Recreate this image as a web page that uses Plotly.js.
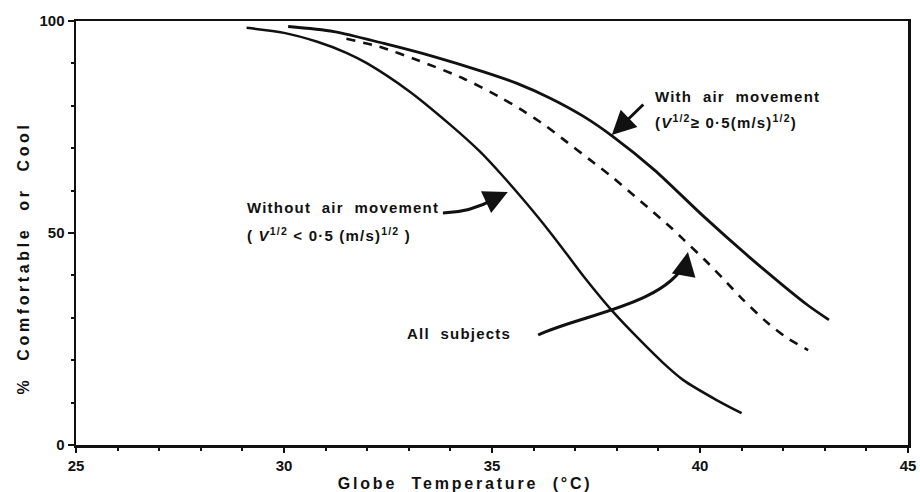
<!DOCTYPE html>
<html>
<head>
<meta charset="utf-8">
<script src="https://cdn.plot.ly/plotly-3.0.1.min.js"></script>
<style>
  html, body { margin: 0; padding: 0; background: #fff; }
  #chart { width: 920px; height: 492px; }
  .annotation-text { letter-spacing: 1.2px; }
  g.annotation[data-index="0"] text { letter-spacing: 2.8px; }
  g.annotation[data-index="1"] text { letter-spacing: 3.6px; }
  .xtick text, .ytick text { font-weight: bold !important; }
</style>
</head>
<body>
<div id="chart"></div>
<script>
// Globe temperature (°C) and % comfortable or cool
const withoutAirX = [29.1, 30.0, 30.8, 31.5, 32.0, 33.0, 34.0, 34.7, 35.2, 35.7, 36.2, 36.7, 37.2, 37.9, 38.6, 39.1, 39.6, 40.4, 41.0];
const withoutAirY = [98.4, 97.2, 95.1, 92.5, 90.0, 83.5, 75.5, 69.3, 64.1, 58.5, 52.6, 46.3, 39.8, 31.5, 24.3, 19.5, 15.3, 10.6, 7.5];

const allSubjectsX = [31.5, 32.3, 33.2, 34.3, 35.2, 35.75, 36.3, 36.7, 37.35, 37.85, 38.3, 38.75, 39.3, 39.6, 40.1, 40.55, 41.0, 41.6, 42.1, 42.6];
const allSubjectsY = [95.8, 93.9, 90.8, 86.5, 82.0, 78.8, 75.2, 72.2, 67.3, 63.5, 59.8, 56.0, 51.3, 48.5, 43.8, 39.3, 34.6, 29.0, 25.2, 22.4];

const withAirX = [30.1, 31.2, 32.4, 33.6, 34.8, 35.6, 36.4, 37.2, 37.9, 38.9, 40.1, 41.2, 42.0, 42.6, 43.1];
const withAirY = [98.7, 97.5, 94.7, 91.6, 88.0, 85.3, 81.8, 77.5, 72.8, 64.9, 53.8, 44.2, 37.6, 32.9, 29.5];

const xTickVals = [25, 30, 35, 40, 45];
const yTickVals = [0, 50, 100];

const xTitle = 'Globe  Temperature  (°C)';
const yTitle = '%  Comfortable  or  Cool';

const FONT = '"Liberation Sans", Arial, sans-serif';
const BLACK = '#111';

const traces = [
  { x: withoutAirX, y: withoutAirY, mode: 'lines', line: { color: BLACK, width: 2.5, shape: 'spline', smoothing: 0.8 }, name: 'Without air movement', hoverinfo: 'skip' },
  { x: allSubjectsX, y: allSubjectsY, mode: 'lines', line: { color: BLACK, width: 2.6, dash: '9px,8px', shape: 'spline', smoothing: 0.8 }, name: 'All subjects', hoverinfo: 'skip' },
  { x: withAirX, y: withAirY, mode: 'lines', line: { color: BLACK, width: 2.8, shape: 'spline', smoothing: 0.8 }, name: 'With air movement', hoverinfo: 'skip' }
];

const txtFont = { family: FONT, size: 15, color: BLACK, weight: 'bold' };
const titleFont = { family: FONT, size: 16, color: BLACK, weight: 'bold' };

const layout = {
  width: 920, height: 492,
  margin: { l: 76, r: 12, t: 21, b: 47 },
  paper_bgcolor: '#fff', plot_bgcolor: '#fff',
  showlegend: false,
  font: { family: FONT, color: BLACK },
  xaxis: {
    range: [25, 45], tickvals: xTickVals, ticktext: xTickVals.map(v => '<b>' + v + '</b>'),
    ticks: 'outside', ticklen: 5, tickwidth: 2, tickcolor: BLACK,
    minor: { dtick: 1, ticks: 'outside', ticklen: 3, tickwidth: 2, tickcolor: BLACK },
    showline: true, linecolor: BLACK, linewidth: 2.5, mirror: true,
    showgrid: false, zeroline: false,
    tickfont: { family: FONT, size: 15, color: BLACK, weight: 'bold' }
  },
  yaxis: {
    range: [0, 100], tickvals: yTickVals, ticktext: yTickVals.map(v => '<b>' + v + '</b>'),
    ticks: 'outside', ticklen: 6, tickwidth: 2, tickcolor: BLACK,
    minor: { dtick: 10, ticks: 'outside', ticklen: 3, tickwidth: 2, tickcolor: BLACK },
    showline: true, linecolor: BLACK, linewidth: 2.5, mirror: true,
    showgrid: false, zeroline: false,
    tickfont: { family: FONT, size: 15, color: BLACK, weight: 'bold' }
  },
  shapes: [
    { type: 'path', xref: 'x', yref: 'y', path: 'M 33.82,54.7 Q 34.5,54.95 35.05,58.0', line: { color: BLACK, width: 3 } },
    { type: 'path', xref: 'x', yref: 'y', path: 'M 36.11,25.94 C 37.12,30.66 39.16,33.02 39.66,43.16', line: { color: BLACK, width: 3 } }
  ],
  annotations: [
    { x: 34.35, y: -0.09, xref: 'x', yref: 'paper', xanchor: 'center', yanchor: 'middle', showarrow: false, text: xTitle, font: titleFont },
    { x: -0.064, y: 44.1, xref: 'paper', yref: 'y', xanchor: 'center', yanchor: 'middle', textangle: -90, showarrow: false, text: yTitle, font: titleFont },
    { x: 38.87, y: 82.1, xref: 'x', yref: 'y', xanchor: 'left', yanchor: 'middle', showarrow: false, text: 'With  air  movement', font: txtFont },
    { x: 38.87, y: 76.4, xref: 'x', yref: 'y', xanchor: 'left', yanchor: 'middle', showarrow: false, text: '(<i>V</i><sup>1/2</sup>≥ 0·5(m/s)<sup>1/2</sup>)', font: txtFont },
    { x: 29.06, y: 56.1, xref: 'x', yref: 'y', xanchor: 'left', yanchor: 'middle', showarrow: false, text: 'Without  air  movement', font: txtFont },
    { x: 29.06, y: 49.6, xref: 'x', yref: 'y', xanchor: 'left', yanchor: 'middle', showarrow: false, text: '( <i>V</i><sup>1/2</sup> &lt; 0·5 (m/s)<sup>1/2</sup> )', font: txtFont },
    { x: 35.50, y: 26.4, xref: 'x', yref: 'y', xanchor: 'right', yanchor: 'middle', showarrow: false, text: 'All  subjects', font: txtFont },
    // arrow heads
    { x: 37.88, y: 73.1, xref: 'x', yref: 'y', text: '', showarrow: true, arrowhead: 2, arrowsize: 1.6, arrowwidth: 3, arrowcolor: BLACK, ax: 33, ay: -32 },
    { x: 35.38, y: 59.67, xref: 'x', yref: 'y', text: '', showarrow: true, arrowhead: 2, arrowsize: 1.6, arrowwidth: 3, arrowcolor: BLACK, ax: -15, ay: 7 },
    { x: 39.71, y: 45.5, xref: 'x', yref: 'y', text: '', showarrow: true, arrowhead: 2, arrowsize: 1.6, arrowwidth: 3, arrowcolor: BLACK, ax: -2, ay: 11 }
  ]
};

Plotly.newPlot('chart', traces, layout, { staticPlot: true, displayModeBar: false });
</script>
</body>
</html>
